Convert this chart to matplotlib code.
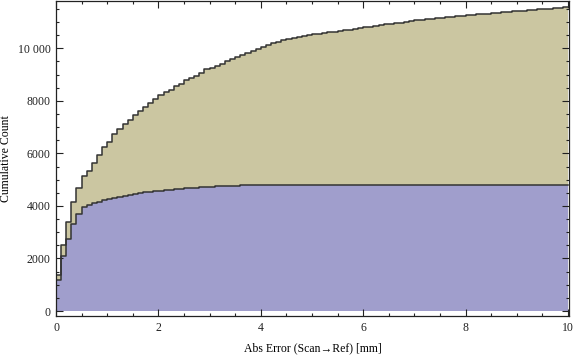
import numpy as np
import matplotlib
matplotlib.use("Agg")
import matplotlib.pyplot as plt
from matplotlib.ticker import MultipleLocator, FuncFormatter

# bin edges: 0.1 mm bins from 0 to 10 mm
bin_width = 0.1
n_bins = 100

# cumulative count of the lower (blue) data set, per bin
blue_cum = [
    1170, 2100, 2750, 3300, 3680, 3940, 4040, 4105, 4160, 4210,
    4270, 4310, 4355, 4395, 4430, 4460, 4495, 4520, 4545, 4565,
    4585, 4600, 4620, 4640, 4655, 4670, 4685, 4700, 4712, 4725,
    4738, 4750, 4760, 4770, 4775, 4777, 4778, 4779, 4780, 4780,
    4781, 4782, 4782, 4783, 4784, 4784, 4785, 4785, 4786, 4786,
    4787, 4787, 4788, 4788, 4789, 4789, 4790, 4790, 4790, 4791,
    4791, 4791, 4792, 4792, 4792, 4793, 4793, 4793, 4794, 4794,
    4794, 4795, 4795, 4795, 4796, 4796, 4796, 4797, 4797, 4797,
    4798, 4798, 4798, 4799, 4799, 4799, 4800, 4800, 4800, 4801,
    4801, 4801, 4802, 4802, 4802, 4803, 4803, 4803, 4804, 4804,
]

# cumulative count of both data sets stacked (top of tan area), per bin
total_cum = [
    1369, 2528, 3403, 4133, 4696, 5122, 5335, 5616, 5920, 6224,
    6452, 6719, 6913, 7129, 7289, 7471, 7624, 7768, 7928, 8072,
    8224, 8327, 8430, 8555, 8658, 8783, 8878, 8962, 9076, 9202,
    9266, 9342, 9418, 9532, 9608, 9684, 9745, 9837, 9913, 9989,
    10065, 10141, 10200, 10255, 10310, 10355, 10395, 10435, 10470, 10500,
    10530, 10555, 10580, 10605, 10630, 10655, 10680, 10710, 10740, 10765,
    10795, 10825, 10855, 10885, 10910, 10930, 10955, 10980, 11010, 11040,
    11070, 11090, 11110, 11130, 11150, 11170, 11190, 11205, 11220, 11240,
    11255, 11275, 11290, 11305, 11320, 11340, 11355, 11375, 11390, 11405,
    11420, 11435, 11450, 11465, 11480, 11495, 11510, 11525, 11540, 11555,
]

tan_color = "#cbc6a1"
blue_color = "#a09ecc"
edge_color = "#333333"

plt.rcParams["font.family"] = ["Liberation Serif", "DejaVu Serif"]

edges = np.arange(n_bins + 1) * bin_width
blue = np.append(blue_cum, blue_cum[-1])
total = np.append(total_cum, total_cum[-1])

fig = plt.figure(figsize=(5.76, 3.57), dpi=100)
ax = fig.add_axes([56 / 576, 1 - 316 / 357, 513 / 576, 315 / 357])

ax.fill_between(edges, blue, total, step="post", color=tan_color, lw=0)
ax.fill_between(edges, 0, blue, step="post", color=blue_color, lw=0)
ax.step(edges, total, where="post", color=edge_color, lw=1.1)
ax.step(edges, blue, where="post", color=edge_color, lw=1.1)

ax.set_xlim(0, 10.02)
ax.set_ylim(-190, 11800)

ax.xaxis.set_major_locator(MultipleLocator(2))
ax.xaxis.set_minor_locator(MultipleLocator(0.5))
ax.yaxis.set_major_locator(MultipleLocator(2000))
ax.yaxis.set_minor_locator(MultipleLocator(500))


def fmt_count(v, pos):
    v = int(round(v))
    if v >= 10000:
        return f"{v // 1000} {v % 1000:03d}"
    return str(v)


ax.yaxis.set_major_formatter(FuncFormatter(fmt_count))
ax.xaxis.set_major_formatter(FuncFormatter(lambda v, p: f"{v:g}"))

ax.tick_params(which="both", direction="in", top=True, right=True,
               labelsize=8.5, colors="#222222", width=0.8)
ax.tick_params(which="major", length=5, pad=4)
ax.tick_params(which="minor", length=2.5)
for s in ax.spines.values():
    s.set_linewidth(0.9)
    s.set_color("#222222")

ax.set_xlabel("Abs Error (Scan\u2192Ref) [mm]", fontsize=8.5, labelpad=6)
ax.set_ylabel("Cumulative Count", fontsize=8.5, labelpad=4)

fig.savefig("out.png", dpi=100)
